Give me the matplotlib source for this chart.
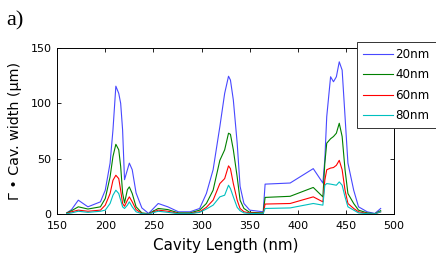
import matplotlib.pyplot as plt

# cavity length (nm)
cav_len = [160, 165, 172, 182, 195, 200, 205, 208, 211, 214, 216, 218, 220, 223, 225,
           228, 232, 238, 245, 255, 265, 276, 288, 298, 305, 312, 319, 324, 328, 330,
           333, 337, 340, 344, 350, 364, 366, 392, 416, 426, 428, 430, 434, 437, 440,
           443, 446, 449, 452, 458, 463, 472, 480, 486]

w20 = [1, 4, 12.5, 6.5, 11, 21.5, 46, 76, 115.5, 109, 100, 76, 31, 40, 46,
       40, 19, 5.5, 0.5, 9.5, 6.5, 2, 2, 5, 18.5, 40, 79, 109, 124.5, 121,
       103, 64, 25, 9.5, 3.5, 2, 27, 28, 41, 28, 49, 88, 124, 119.5, 124,
       137.5, 130, 88, 46, 21.5, 6.5, 2, 0.5, 5]
w40 = [1, 3, 6.5, 4.5, 6.5, 14, 33.5, 52, 63, 58, 43, 19, 10, 22, 24.5,
       18.5, 6.5, 1, 0.3, 5, 4, 1, 1, 3.5, 9.5, 21.5, 48.5, 58, 73, 72,
       58, 33.5, 12.5, 5, 1.5, 1, 15, 16, 24, 15.5, 46, 64, 68, 70, 73,
       82, 70, 40, 18.5, 9.5, 3.5, 1, 0.3, 3]
w60 = [0.5, 2, 3.5, 2.5, 3.5, 8, 18.5, 30.5, 35, 32, 21.5, 9.5, 7, 12.5, 15.5,
       11, 4, 0.5, 0.2, 3.5, 2.5, 0.5, 0.5, 2, 6, 12.5, 27.5, 32, 43.5, 41,
       27.5, 12.5, 5, 2, 1, 0.5, 9, 9.5, 15.5, 11, 30.5, 40, 41.5, 42, 44,
       48.5, 40, 21.5, 9.5, 5, 2, 0.5, 0.2, 2]
w80 = [0.3, 1, 2.5, 1.5, 2.5, 3.5, 9.5, 17, 21.5, 18.5, 12.5, 6.5, 5, 8, 11,
       6.5, 2, 0.3, 0.1, 2.5, 1.5, 0.3, 0.3, 1.5, 4.5, 8, 15.5, 17, 26, 23,
       15.5, 6, 3, 1, 0.5, 0.3, 5, 5.5, 9.5, 8, 26, 27.5, 27, 26.5, 26,
       29, 26, 15.5, 6.5, 3.5, 1, 0.3, 0.2, 2]

series = [("20nm", w20, "#4848ff"), ("40nm", w40, "#008000"),
          ("60nm", w60, "#ff0000"), ("80nm", w80, "#00bfbf")]

plt.rcParams['font.family'] = ['DejaVu Sans']

fig = plt.figure(figsize=(4.36, 2.58), dpi=100)
ax = fig.add_axes([0.131, 0.1705, 0.773, 0.6435])

for label, vals, col in series:
    ax.plot(cav_len, vals, color=col, linewidth=0.8, label=label)

ax.set_xlim(150, 500)
ax.set_ylim(0, 150)
ax.set_xticks([150, 200, 250, 300, 350, 400, 450, 500])
ax.set_yticks([0, 50, 100, 150])
ax.tick_params(direction='in', top=True, right=True, labelsize=8, length=3, width=0.6)
ax.tick_params(axis='x', pad=5)
ax.tick_params(axis='y', pad=4)
for sp in ax.spines.values():
    sp.set_linewidth(0.7)

ax.set_xlabel("Cavity Length (nm)", fontsize=10.9, labelpad=5)
ax.set_ylabel("Γ • Cav. width (µm)", fontsize=10.3, labelpad=6)

leg = ax.legend(loc='upper left', bbox_to_anchor=(0.89, 1.036), fontsize=8.6,
                handlelength=2.5, handletextpad=0.2, labelspacing=0.62,
                borderpad=0.5, borderaxespad=0, fancybox=False, framealpha=1,
                edgecolor='#333333')
leg.get_frame().set_linewidth(0.7)

fig.text(0.014, 0.9, "a)", fontsize=16, family='Liberation Serif')

fig.savefig("out.png", dpi=100)
